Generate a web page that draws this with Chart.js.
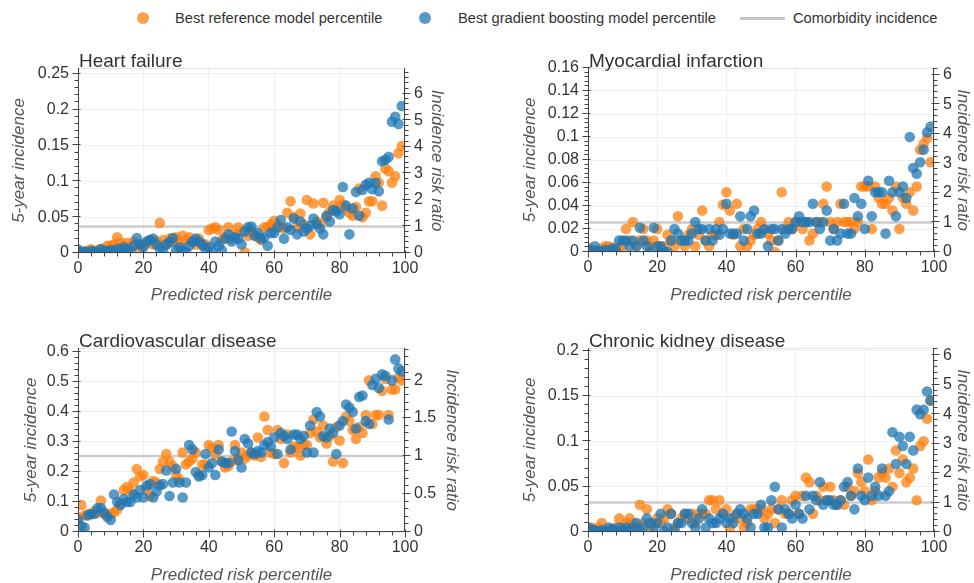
<!DOCTYPE html>
<html>
<head>
<meta charset="utf-8">
<title>Comorbidity incidence by predicted risk percentile</title>
<script src="https://cdn.jsdelivr.net/npm/chart.js@4.4.1/dist/chart.umd.min.js"></script>
<style>
	html, body { margin: 0; padding: 0; background: #fff; }
	body {
		width: 974px; height: 583px; position: relative; overflow: hidden;
		font-family: "Liberation Sans", Arial, Helvetica, sans-serif;
	}
	.panel { position: absolute; }
	.legend-text { position: absolute; top: 9px; font-size: 14.7px; line-height: 18px; color: #333; white-space: nowrap; }
	.legend-dot { position: absolute; top: 12px; width: 12px; height: 12px; border-radius: 50%; }
	.legend-line { position: absolute; top: 17px; left: 740px; width: 45px; height: 3px; background: #c8c8c8; }
</style>
</head>
<body>
<div class="legend-dot" style="left:137px;background:rgba(255,127,14,0.75)"></div>
<div class="legend-text" style="left:175px">Best reference model percentile</div>
<div class="legend-dot" style="left:419px;background:rgba(31,119,180,0.75)"></div>
<div class="legend-text" style="left:458px">Best gradient boosting model percentile</div>
<div class="legend-line"></div>
<div class="legend-text" style="left:793px">Comorbidity incidence</div>

<canvas id="panel-hf" class="panel" width="487" height="280" style="left:0;top:40px"></canvas>
<canvas id="panel-mi" class="panel" width="487" height="280" style="left:487px;top:40px"></canvas>
<canvas id="panel-cvd" class="panel" width="487" height="280" style="left:0;top:320px"></canvas>
<canvas id="panel-ckd" class="panel" width="487" height="280" style="left:487px;top:320px"></canvas>

<script>
(function() {
	'use strict';

	// Predicted risk percentile (x values shared by every panel)
	var percentiles = [0,1,2,3,4,5,6,7,8,9,10,11,12,13,14,15,16,17,18,19,
		20,21,22,23,24,25,26,27,28,29,30,31,32,33,34,35,36,37,38,39,
		40,41,42,43,44,45,46,47,48,49,50,51,52,53,54,55,56,57,58,59,
		60,61,62,63,64,65,66,67,68,69,70,71,72,73,74,75,76,77,78,79,
		80,81,82,83,84,85,86,87,88,89,90,91,92,93,94,95,96,97,98,99];

	// Heart failure
	var hfReference = [0.002,0.001,0.002,0.003,0.005,0.002,0.004,0.006,0.004,0.010,
		0.010,0.012,0.022,0.015,0.010,0.014,0.008,0.016,0.012,0.005,
		0.010,0.014,0.018,0.012,0.016,0.042,0.018,0.012,0.020,0.016,
		0.022,0.014,0.024,0.018,0.022,0.016,0.012,0.020,0.010,0.012,
		0.032,0.034,0.036,0.032,0.018,0.022,0.036,0.020,0.026,0.036,
		0.030,0.001,0.024,0.030,0.026,0.022,0.018,0.036,0.036,0.040,
		0.045,0.040,0.036,0.034,0.056,0.072,0.050,0.036,0.055,0.040,
		0.074,0.026,0.069,0.044,0.040,0.070,0.050,0.058,0.066,0.062,
		0.074,0.068,0.062,0.056,0.052,0.064,0.090,0.050,0.056,0.072,
		0.072,0.107,0.098,0.066,0.118,0.114,0.098,0.107,0.139,0.149];
	var hfBoosting = [0.005,0.001,0.002,0.000,0.003,0.002,0.001,0.005,0.003,0.002,
		0.004,0.002,0.006,0.003,0.008,0.005,0.002,0.010,0.021,0.012,
		0.008,0.016,0.018,0.020,0.012,0.006,0.003,0.012,0.015,0.021,
		0.004,0.008,0.003,0.002,0.010,0.016,0.020,0.016,0.012,0.006,
		0.008,0.002,0.016,0.010,0.004,0.020,0.026,0.016,0.022,0.020,
		0.012,0.030,0.036,0.037,0.024,0.028,0.020,0.022,0.010,0.028,
		0.028,0.036,0.046,0.020,0.036,0.032,0.048,0.026,0.044,0.030,
		0.034,0.038,0.048,0.040,0.034,0.026,0.052,0.044,0.060,0.058,
		0.054,0.092,0.066,0.026,0.062,0.085,0.052,0.088,0.095,0.098,
		0.089,0.098,0.086,0.128,0.130,0.134,0.183,0.190,0.180,0.205];
	var hfIncidence = 0.037;

	// Myocardial infarction
	var miReference = [0.004,0.002,0.001,0.000,0.003,0.005,0.005,0.003,0.004,0.002,
		0.005,0.020,0.010,0.026,0.005,0.010,0.020,0.010,0.005,0.010,
		0.020,0.005,0.005,0.015,0.010,0.005,0.031,0.010,0.005,0.015,
		0.020,0.005,0.015,0.036,0.010,0.005,0.015,0.015,0.026,0.041,
		0.052,0.036,0.015,0.042,0.005,0.020,0.005,0.010,0.015,0.020,
		0.026,0.020,0.016,0.010,0.000,0.010,0.052,0.020,0.026,0.020,
		0.026,0.026,0.020,0.026,0.010,0.016,0.026,0.026,0.042,0.057,
		0.026,0.020,0.026,0.042,0.026,0.026,0.026,0.020,0.026,0.057,
		0.057,0.057,0.020,0.057,0.047,0.042,0.042,0.047,0.036,0.057,
		0.020,0.047,0.042,0.052,0.036,0.057,0.089,0.094,0.099,0.078];
	var miBoosting = [0.002,0.001,0.005,0.001,0.000,0.002,0.001,0.003,0.002,0.010,
		0.010,0.010,0.005,0.010,0.005,0.021,0.010,0.005,0.000,0.021,
		0.005,0.005,0.000,0.000,0.010,0.020,0.016,0.010,0.010,0.010,
		0.016,0.026,0.020,0.020,0.010,0.020,0.010,0.020,0.015,0.020,
		0.042,0.016,0.016,0.016,0.031,0.010,0.020,0.031,0.036,0.016,
		0.016,0.020,0.005,0.020,0.020,0.010,0.020,0.016,0.020,0.020,
		0.026,0.031,0.026,0.026,0.026,0.042,0.026,0.020,0.026,0.036,
		0.010,0.020,0.010,0.016,0.042,0.016,0.016,0.047,0.031,0.042,
		0.020,0.062,0.031,0.052,0.052,0.052,0.016,0.062,0.052,0.031,
		0.052,0.057,0.047,0.100,0.073,0.068,0.078,0.089,0.104,0.109];
	var miIncidence = 0.0257;

	// Cardiovascular disease
	var cvdReference = [0.050,0.090,0.055,0.060,0.060,0.070,0.065,0.105,0.060,0.055,
		0.060,0.065,0.075,0.095,0.140,0.150,0.135,0.165,0.210,0.185,
		0.190,0.145,0.120,0.170,0.165,0.210,0.235,0.260,0.235,0.220,
		0.190,0.175,0.265,0.225,0.235,0.245,0.265,0.190,0.225,0.225,
		0.290,0.280,0.260,0.290,0.235,0.215,0.220,0.235,0.290,0.245,
		0.265,0.245,0.255,0.265,0.255,0.315,0.250,0.385,0.340,0.265,
		0.260,0.340,0.310,0.230,0.325,0.265,0.285,0.280,0.255,0.290,
		0.290,0.330,0.375,0.335,0.315,0.355,0.295,0.320,0.235,0.350,
		0.305,0.230,0.385,0.370,0.340,0.310,0.350,0.330,0.390,0.505,
		0.360,0.390,0.390,0.470,0.510,0.390,0.475,0.475,0.515,0.505];
	var cvdBoosting = [0.040,0.020,0.015,0.055,0.060,0.060,0.080,0.080,0.065,0.050,
		0.040,0.125,0.100,0.090,0.110,0.100,0.100,0.125,0.115,0.140,
		0.115,0.155,0.160,0.115,0.135,0.155,0.160,0.205,0.120,0.165,
		0.210,0.165,0.115,0.165,0.290,0.275,0.200,0.185,0.190,0.260,
		0.215,0.230,0.190,0.275,0.235,0.230,0.230,0.335,0.270,0.240,
		0.215,0.310,0.295,0.265,0.260,0.270,0.265,0.290,0.300,0.285,
		0.315,0.260,0.330,0.320,0.310,0.275,0.325,0.325,0.310,0.320,
		0.265,0.355,0.265,0.400,0.385,0.320,0.315,0.345,0.330,0.260,
		0.355,0.370,0.425,0.415,0.400,0.345,0.450,0.455,0.370,0.360,
		0.490,0.510,0.480,0.525,0.520,0.375,0.505,0.575,0.545,0.535];
	var cvdIncidence = 0.253;

	// Chronic kidney disease
	var ckdReference = [0.003,0.005,0.002,0.005,0.010,0.002,0.001,0.003,0.005,0.015,
		0.005,0.010,0.015,0.010,0.005,0.030,0.010,0.025,0.005,0.010,
		0.015,0.010,0.015,0.025,0.020,0.005,0.010,0.015,0.020,0.015,
		0.020,0.010,0.020,0.020,0.020,0.035,0.035,0.025,0.035,0.020,
		0.025,0.005,0.015,0.020,0.015,0.005,0.010,0.025,0.025,0.025,
		0.025,0.015,0.020,0.025,0.010,0.025,0.035,0.020,0.020,0.035,
		0.040,0.020,0.040,0.060,0.055,0.020,0.040,0.035,0.050,0.035,
		0.050,0.035,0.030,0.035,0.030,0.050,0.040,0.045,0.065,0.055,
		0.045,0.080,0.035,0.045,0.060,0.065,0.060,0.070,0.050,0.090,
		0.065,0.080,0.055,0.060,0.070,0.035,0.095,0.100,0.125,0.145];
	var ckdBoosting = [0.005,0.003,0.002,0.001,0.002,0.001,0.005,0.003,0.001,0.005,
		0.002,0.005,0.001,0.005,0.010,0.001,0.005,0.015,0.010,0.005,
		0.010,0.020,0.001,0.005,0.020,0.002,0.010,0.010,0.020,0.020,
		0.010,0.005,0.015,0.025,0.005,0.015,0.010,0.010,0.015,0.020,
		0.010,0.015,0.010,0.020,0.025,0.020,0.015,0.005,0.020,0.020,
		0.030,0.005,0.005,0.035,0.050,0.025,0.005,0.025,0.020,0.015,
		0.030,0.020,0.015,0.040,0.025,0.040,0.035,0.055,0.030,0.035,
		0.035,0.030,0.030,0.035,0.050,0.055,0.040,0.025,0.070,0.040,
		0.035,0.060,0.040,0.050,0.040,0.070,0.040,0.045,0.110,0.075,
		0.105,0.095,0.075,0.105,0.090,0.135,0.130,0.135,0.155,0.145];
	var ckdIncidence = 0.0325;

	var FONT = '"Liberation Sans", Arial, Helvetica, sans-serif';
	var ORANGE = 'rgba(255,127,14,0.75)';
	var BLUE = 'rgba(31,119,180,0.75)';
	var AXIS_COLOR = '#444';
	var TICK_TEXT = '#333';

	var panels = [
		{ canvasId: 'panel-hf', title: 'Heart failure', reference: hfReference, boosting: hfBoosting,
		  incidence: hfIncidence, yMax: 0.258, yStep: 0.05, ratioStep: 1,
		  leftWidth: 78, rightWidth: 82, xHeight: 67, leftTitlePad: 9, rightTitlePad: 40 },
		{ canvasId: 'panel-mi', title: 'Myocardial infarction', reference: miReference, boosting: miBoosting,
		  incidence: miIncidence, yMax: 0.160, yStep: 0.02, ratioStep: 1,
		  leftWidth: 101, rightWidth: 40, xHeight: 68, leftTitlePad: 33, rightTitlePad: 1 },
		{ canvasId: 'panel-cvd', title: 'Cardiovascular disease', reference: cvdReference, boosting: cvdBoosting,
		  incidence: cvdIncidence, yMax: 0.613, yStep: 0.1, ratioStep: 0.5,
		  leftWidth: 78, rightWidth: 82, xHeight: 68, leftTitlePad: 21, rightTitlePad: 25 },
		{ canvasId: 'panel-ckd', title: 'Chronic kidney disease', reference: ckdReference, boosting: ckdBoosting,
		  incidence: ckdIncidence, yMax: 0.203, yStep: 0.05, ratioStep: 1,
		  leftWidth: 101, rightWidth: 40, xHeight: 68, leftTitlePad: 33, rightTitlePad: 1 }
	];

	function toPoints(values) {
		return values.map(function(v, i) { return { x: percentiles[i], y: v }; });
	}

	function tickLabel(v) {
		return String(+v.toFixed(4));
	}

	function strokeLine(ctx, x1, y1, x2, y2) {
		ctx.beginPath();
		ctx.moveTo(x1, y1);
		ctx.lineTo(x2, y2);
		ctx.stroke();
	}

	// major/minor tick values along a scale, 5 minor divisions per major step
	function tickValues(max, major) {
		var minor = major / 5;
		var out = [];
		for (var i = 0; i * minor <= max + 1e-9; i++) {
			out.push({ value: i * minor, major: i % 5 === 0 });
		}
		return out;
	}

	// Axis lines, bokeh-like ticks (in + out) and the panel title
	var panelDecor = {
		id: 'panelDecor',
		afterDraw: function(chart, args, opts) {
			var ctx = chart.ctx;
			var area = chart.chartArea;
			var xs = chart.scales.x, yl = chart.scales.y, yr = chart.scales.y2;
			var left = Math.round(area.left) + 0.5;
			var right = Math.round(area.right) - 0.5;
			var bottom = Math.round(area.bottom) - 0.5;
			var top = Math.round(area.top) + 0.5;

			ctx.save();
			ctx.lineWidth = 1;

			// light outline on top of the frame
			ctx.strokeStyle = '#e3e3e3';
			strokeLine(ctx, left, top, right, top);

			ctx.strokeStyle = AXIS_COLOR;
			strokeLine(ctx, left, area.top, left, area.bottom);
			strokeLine(ctx, right, area.top, right, area.bottom);
			strokeLine(ctx, area.left, bottom, area.right, bottom);

			tickValues(xs.max, 20).forEach(function(t) {
				var px = Math.round(xs.getPixelForValue(t.value)) + 0.5;
				if (t.major) strokeLine(ctx, px, bottom - 2, px, bottom + 6);
				else strokeLine(ctx, px, bottom, px, bottom + 4);
			});
			tickValues(yl.max, opts.yStep).forEach(function(t) {
				var py = Math.round(yl.getPixelForValue(t.value)) - 0.5;
				if (t.major) strokeLine(ctx, left - 6, py, left + 2, py);
				else strokeLine(ctx, left - 4, py, left, py);
			});
			tickValues(yr.max, opts.ratioStep).forEach(function(t) {
				var py = Math.round(yr.getPixelForValue(t.value)) - 0.5;
				if (t.major) strokeLine(ctx, right - 2, py, right + 6, py);
				else strokeLine(ctx, right, py, right + 4, py);
			});

			ctx.fillStyle = '#333';
			ctx.font = '19px ' + FONT;
			ctx.textAlign = 'left';
			ctx.textBaseline = 'alphabetic';
			ctx.fillText(opts.title, area.left + 1, area.top - 1);
			ctx.restore();
		}
	};

	function buildPanel(p) {
		var canvas = document.getElementById(p.canvasId);
		var ratioMax = p.yMax / p.incidence;

		return new Chart(canvas, {
			type: 'scatter',
			data: {
				datasets: [
					{
						label: 'Best gradient boosting model percentile',
						data: toPoints(p.boosting),
						backgroundColor: BLUE,
						borderWidth: 0,
						pointRadius: 5.3,
						order: 1,
						yAxisID: 'y'
					},
					{
						label: 'Best reference model percentile',
						data: toPoints(p.reference),
						backgroundColor: ORANGE,
						borderWidth: 0,
						pointRadius: 5.3,
						order: 2,
						yAxisID: 'y'
					},
					{
						type: 'line',
						label: 'Comorbidity incidence',
						data: [{ x: 0, y: p.incidence }, { x: 100, y: p.incidence }],
						borderColor: 'rgba(190,190,190,0.8)',
						borderWidth: 2.5,
						pointRadius: 0,
						order: 3,
						yAxisID: 'y'
					}
				]
			},
			options: {
				responsive: false,
				animation: false,
				events: [],
				layout: { padding: { top: 28, left: 0, right: 0, bottom: 0 } },
				plugins: {
					legend: { display: false },
					tooltip: { enabled: false },
					panelDecor: { title: p.title, yStep: p.yStep, ratioStep: p.ratioStep }
				},
				scales: {
					x: {
						type: 'linear',
						min: 0,
						max: 100,
						afterFit: function(s) { s.height = p.xHeight; },
						grid: { color: '#efefef', drawTicks: false },
						border: { display: false },
						ticks: {
							stepSize: 20, padding: 6, color: TICK_TEXT,
							font: { family: FONT, size: 16 }, maxRotation: 0,
							callback: tickLabel
						},
						title: {
							display: true, text: 'Predicted risk percentile', color: '#555',
							font: { family: FONT, size: 17, style: 'italic' },
							padding: { top: 0, bottom: 15 }
						}
					},
					y: {
						position: 'left',
						min: 0,
						max: p.yMax,
						afterFit: function(s) { s.width = p.leftWidth; },
						grid: { color: '#efefef', drawTicks: false },
						border: { display: false },
						ticks: {
							stepSize: p.yStep, includeBounds: false, padding: 9, color: TICK_TEXT,
							font: { family: FONT, size: 16 }, callback: tickLabel
						},
						title: {
							display: true, text: '5-year incidence', color: '#555',
							font: { family: FONT, size: 17, style: 'italic' },
							padding: { top: p.leftTitlePad, bottom: 0 }
						}
					},
					y2: {
						position: 'right',
						min: 0,
						max: ratioMax,
						afterFit: function(s) { s.width = p.rightWidth; },
						grid: { display: false, drawTicks: false },
						border: { display: false },
						ticks: {
							stepSize: p.ratioStep, includeBounds: false, padding: 9, color: TICK_TEXT,
							font: { family: FONT, size: 16 }, callback: tickLabel
						},
						title: {
							display: true, text: 'Incidence risk ratio', color: '#555',
							font: { family: FONT, size: 17, style: 'italic' },
							padding: { top: p.rightTitlePad, bottom: 0 }
						}
					}
				}
			},
			plugins: [panelDecor]
		});
	}

	panels.forEach(buildPanel);
})();
</script>
</body>
</html>
